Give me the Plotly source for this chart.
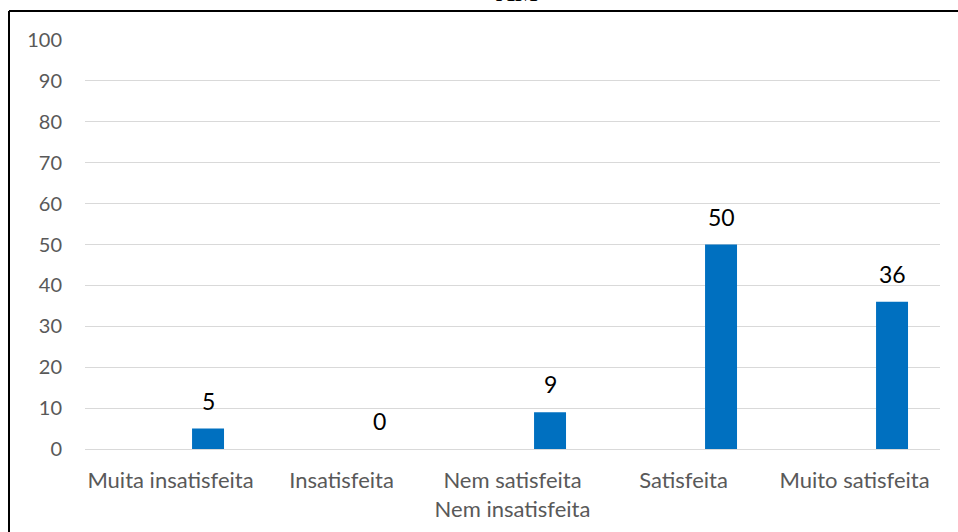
import plotly.graph_objects as go

categories = ["Muita insatisfeita", "Insatisfeita", "Nem satisfeita<br>Nem insatisfeita",
              "Satisfeita", "Muito satisfeita"]
values = [5, 0, 9, 50, 36]
y_ticks = [0, 10, 20, 30, 40, 50, 60, 70, 80, 90, 100]

BAR_COLOR = "#0070C0"
GRID_COLOR = "#D9D9D9"
TICK_COLOR = "#595959"
FONT = "Lato"

W, H = 958, 532
ML, MR, MT, MB = 85, 18, 40, 83
plot_w = W - ML - MR
plot_h = H - MT - MB

# bar sits to the right of its category centre (single series of a clustered layout)
bar_width = 0.187
bar_offset = 0.126
label_shift = (bar_offset + bar_width / 2) * plot_w / len(categories)

fig = go.Figure()
fig.add_trace(go.Bar(
    x=categories, y=values,
    marker=dict(color=BAR_COLOR, line=dict(width=0)),
    width=bar_width, offset=bar_offset,
    hoverinfo="skip",
))

annotations = []
for c, v in zip(categories, values):
    annotations.append(dict(
        x=c, y=v, xref="x", yref="y", text=str(v), showarrow=False,
        xshift=label_shift, yanchor="bottom", yshift=12,
        font=dict(family=FONT, size=23, color="#000000"),
    ))


def px_x(px):
    return (px - ML) / plot_w


def px_y(py):
    return (H - MB - py) / plot_h


# title, mostly hidden above the frame
annotations.append(dict(
    x=px_x(517), y=px_y(9), xref="paper", yref="paper", text="AM",
    showarrow=False, xanchor="center", yanchor="bottom",
    font=dict(family="Liberation Serif", size=26, color="#000000"),
))

shapes = [
    dict(type="line", xref="paper", yref="paper",
         x0=px_x(9), x1=px_x(W + 5), y0=px_y(11), y1=px_y(11),
         line=dict(color="#000000", width=2)),
    dict(type="line", xref="paper", yref="paper",
         x0=px_x(9), x1=px_x(9), y0=px_y(11), y1=px_y(H + 5),
         line=dict(color="#000000", width=2)),
]

fig.update_layout(
    width=W, height=H,
    margin=dict(l=ML, r=MR, t=MT, b=MB, pad=0, autoexpand=False),
    paper_bgcolor="white", plot_bgcolor="white",
    showlegend=False,
    annotations=annotations,
    shapes=shapes,
    font=dict(family=FONT, size=20, color=TICK_COLOR),
    xaxis=dict(
        type="category", showgrid=False, showline=False, zeroline=False,
        automargin=False,
        ticks="outside", ticklen=12, tickcolor="rgba(0,0,0,0)",
        tickfont=dict(family=FONT, size=22, color=TICK_COLOR),
        fixedrange=True,
    ),
    yaxis=dict(
        range=[0, 100], tickvals=y_ticks,
        automargin=False,
        showgrid=True, gridcolor=GRID_COLOR, gridwidth=1,
        zeroline=True, zerolinecolor=GRID_COLOR, zerolinewidth=1,
        showline=False,
        ticks="outside", ticklen=18, tickcolor="rgba(0,0,0,0)",
        tickfont=dict(family=FONT, size=20, color=TICK_COLOR),
        fixedrange=True,
    ),
)

fig.write_html("out.html", config={"displayModeBar": False})
